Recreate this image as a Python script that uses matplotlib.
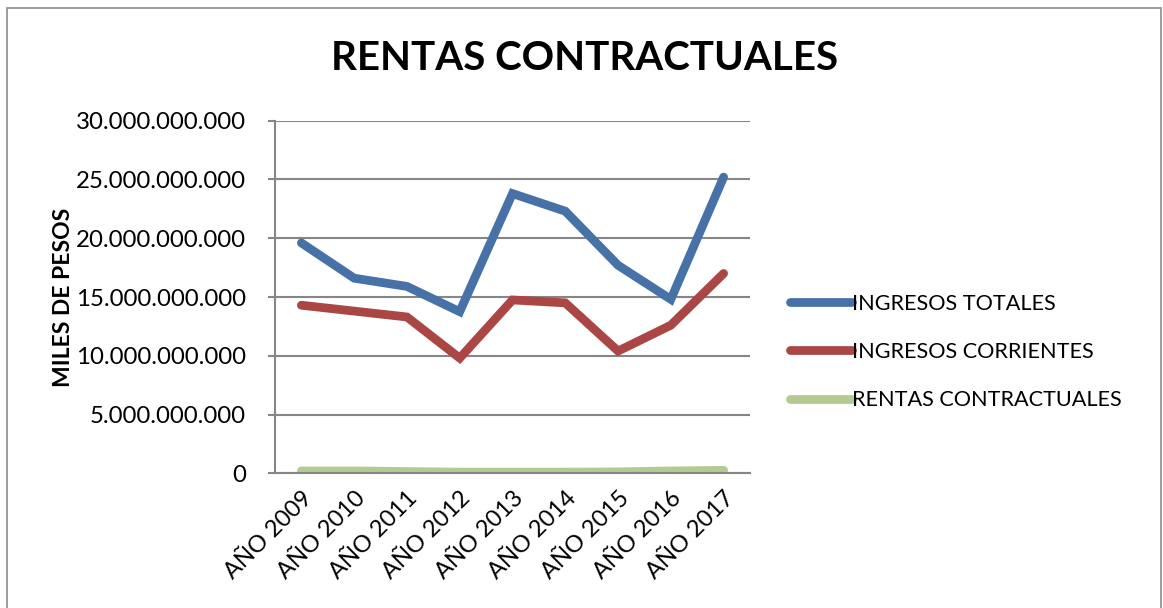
import matplotlib
matplotlib.use("Agg")
import matplotlib.pyplot as plt
from matplotlib.patches import Rectangle
from matplotlib.ticker import FuncFormatter

categories = ["AÑO 2009", "AÑO 2010", "AÑO 2011", "AÑO 2012", "AÑO 2013",
              "AÑO 2014", "AÑO 2015", "AÑO 2016", "AÑO 2017"]
ingresos_totales = [19.6e9, 16.6e9, 15.9e9, 13.75e9, 23.8e9, 22.3e9, 17.7e9, 14.8e9, 25.2e9]
ingresos_corrientes = [14.3e9, 13.8e9, 13.3e9, 9.8e9, 14.75e9, 14.5e9, 10.4e9, 12.6e9, 17.0e9]
rentas_contractuales = [0.2e9, 0.2e9, 0.15e9, 0.1e9, 0.1e9, 0.1e9, 0.12e9, 0.2e9, 0.25e9]
series_names = ["INGRESOS TOTALES", "INGRESOS CORRIENTES", "RENTAS CONTRACTUALES"]
colors = ["#4672A8", "#AA4643", "#B4CB90"]
yticks = [0, 5e9, 10e9, 15e9, 20e9, 25e9, 30e9]

FONT = "Lato"
plt.rcParams["font.family"] = [FONT, "DejaVu Sans"]

W, H = 1163, 608
fig = plt.figure(figsize=(W / 100, H / 100), dpi=100)
fig.patches.append(Rectangle((7 / W, -0.1), (1161 - 7) / W, 1.1 - 8 / H,
                             transform=fig.transFigure, fill=False,
                             edgecolor="#8C8C8C", linewidth=1.2))

ax = fig.add_axes([275 / W, 1 - 473.3 / H, (750 - 275) / W, (473.3 - 120.7) / H])
x = list(range(len(categories)))
for vals, name, c in zip([ingresos_totales, ingresos_corrientes, rentas_contractuales],
                         series_names, colors):
    ax.plot(x, vals, color=c, linewidth=6.3, label=name, solid_capstyle="round",
            solid_joinstyle="miter")

ax.set_xlim(-0.5, len(categories) - 0.5)
ax.set_ylim(0, 30e9)
ax.set_yticks(yticks)
ax.yaxis.set_major_formatter(FuncFormatter(lambda v, p: f"{int(round(v)):,}".replace(",", ".")))
ax.set_xticks(x)
ax.set_xticklabels(categories, rotation=45, ha="right", rotation_mode="anchor")
ax.grid(axis="y", color="#868686", linewidth=1.5)
ax.set_axisbelow(True)
for s in ["top", "right"]:
    ax.spines[s].set_visible(False)
for s in ["left", "bottom"]:
    ax.spines[s].set_color("#868686")
    ax.spines[s].set_linewidth(1.5)
ax.tick_params(axis="y", length=5, color="#868686", width=1.5, labelsize=17.3, pad=16)
ax.tick_params(axis="x", length=0, labelsize=17, pad=10)
ax.set_ylabel("MILES DE PESOS", fontsize=16.5, fontweight="bold", labelpad=1)

fig.text(585 / W, 1 - 58 / H, "RENTAS CONTRACTUALES", ha="center", va="center",
         fontsize=29, fontweight="bold")

leg = ax.legend(loc="center left", bbox_to_anchor=(770 / W, 1 - 352 / H),
                bbox_transform=fig.transFigure, frameon=False, fontsize=15.6,
                handlelength=2.9, handletextpad=0.0, labelspacing=1.3)

fig.savefig("out.png", dpi=100)
